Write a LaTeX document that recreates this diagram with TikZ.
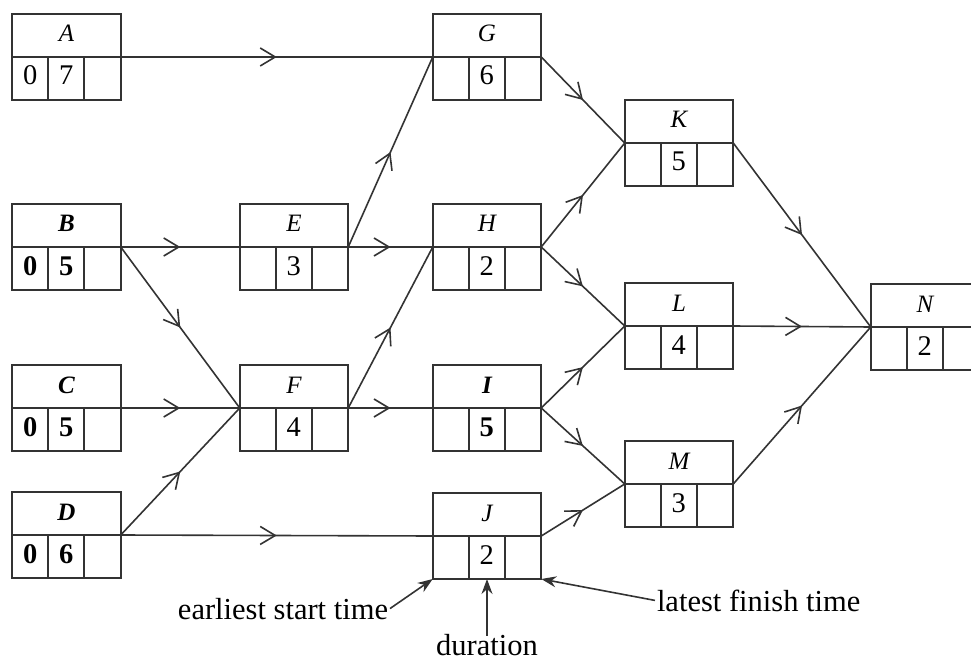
\documentclass[tikz,border=0pt]{standalone}
\usepackage{fontspec}
\setmainfont{Liberation Serif}
\usetikzlibrary{arrows.meta,calc,decorations.markings}

% One activity box: name, centre, label style, label, number style, earliest start, duration
\newcommand\actbox[7]{%
  \node[actbox] (#1) at (#2) {};
  \draw[boxline] (#1.west) -- (#1.east)
    ($(#1.west)+(36,0)$) -- ($(#1.south west)+(36,0)$)
    ($(#1.west)+(72,0)$) -- ($(#1.south west)+(72,0)$);
  \node[#3] (#1-lbl) at ($(#1.center)+(0,-15)$) {#4};
  \node[#5] (#1-es) at ($(#1.west)+(18,28)$) {#6};
  \node[#5] (#1-dur) at ($(#1.west)+(54,28)$) {#7};
}

\begin{document}
\begin{tikzpicture}[x=1pt,y=-1pt,
  boxline/.style={draw=black!80, line width=1.6pt},
  actbox/.style={boxline, rectangle, minimum width=108.5pt, minimum height=86pt, inner sep=0pt, outer sep=0pt},
  actname/.style={font=\fontsize{25}{29}\selectfont\itshape, anchor=base, inner sep=0pt},
  keyname/.style={actname, font=\fontsize{25}{29}\selectfont\bfseries\itshape},
  num/.style={font=\fontsize{28.5}{32}\selectfont, anchor=base, inner sep=0pt},
  keynum/.style={num, font=\fontsize{28.5}{32}\selectfont\bfseries},
  flowarrow/.style={boxline, postaction={decorate},
    decoration={markings, mark=at position 0.5 with {\arrow[line width=1.6pt]{Straight Barb[length=15pt,width=18pt]}}}},
  notetext/.style={font=\fontsize{30.5}{34}\selectfont, inner sep=2pt, outer sep=0pt},
  pointer/.style={boxline, -{Stealth[length=15pt,width=11pt]}}
]
\useasboundingbox (0,0) rectangle (971,660);
\clip (0,0) rectangle (971,660);

% activities
\actbox{A}{66.5,57}{actname}{A}{num}{0}{7}
\actbox{B}{66.5,247}{keyname}{B}{keynum}{0}{5}
\actbox{C}{66.5,408}{keyname}{C}{keynum}{0}{5}
\actbox{D}{66.5,535}{keyname}{D}{keynum}{0}{6}
\actbox{E}{294,247}{actname}{E}{num}{}{3}
\actbox{F}{294,408}{actname}{F}{num}{}{4}
\actbox{G}{487,57}{actname}{G}{num}{}{6}
\actbox{H}{487,247}{actname}{H}{num}{}{2}
\actbox{I}{487,408}{keyname}{I}{keynum}{}{5}
\actbox{J}{487,536}{actname}{J}{num}{}{2}
\actbox{K}{679,143}{actname}{K}{num}{}{5}
\actbox{L}{679,326}{actname}{L}{num}{}{4}
\actbox{M}{679,484}{actname}{M}{num}{}{3}
\actbox{N}{925,327}{actname}{N}{num}{}{2}

% precedences
\draw[flowarrow] (A.east) -- (G.west);
\draw[flowarrow] (B.east) -- (E.west);
\draw[flowarrow] (B.east) -- (F.west);
\draw[flowarrow] (C.east) -- (F.west);
\draw[flowarrow] (D.east) -- (F.west);
\draw[flowarrow] (D.east) -- (J.west);
\draw[flowarrow] (E.east) -- (G.west);
\draw[flowarrow] (E.east) -- (H.west);
\draw[flowarrow] (F.east) -- (H.west);
\draw[flowarrow] (F.east) -- (I.west);
\draw[flowarrow] (G.east) -- (K.west);
\draw[flowarrow] (H.east) -- (K.west);
\draw[flowarrow] (H.east) -- (L.west);
\draw[flowarrow] (I.east) -- (L.west);
\draw[flowarrow] (I.east) -- (M.west);
\draw[flowarrow] (J.east) -- (M.west);
\draw[flowarrow] (K.east) -- (N.west);
\draw[flowarrow] (L.east) -- (N.west);
\draw[flowarrow] (M.east) -- (N.west);

% key to the cells
\node[notetext, anchor=base east] (est) at (390,619) {earliest start time};
\node[notetext, anchor=base] (dur) at (487,655) {duration};
\node[notetext, anchor=base west] (lft) at (655,611) {latest finish time};
\draw[pointer] (est.east) -- (J.south west);
\draw[pointer] ([yshift=-4pt]dur.north) -- (J.south);
\draw[pointer] (lft.west) -- (J.south east);
\end{tikzpicture}
\end{document}
